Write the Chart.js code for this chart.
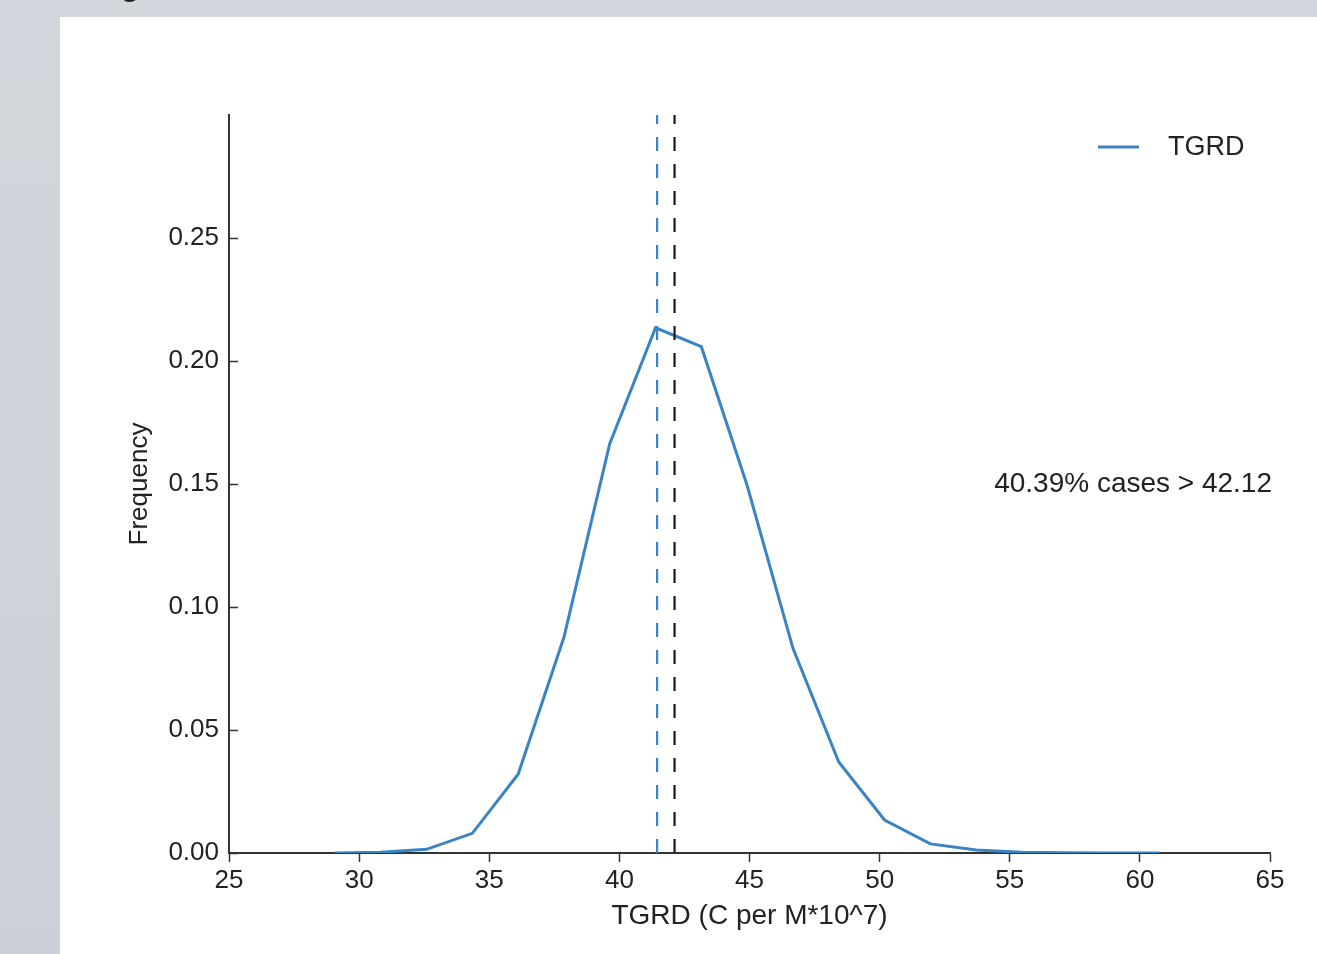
<!DOCTYPE html>
<html>
<head>
<meta charset="utf-8">
<script src="https://cdn.jsdelivr.net/npm/chart.js@4.4.1/dist/chart.umd.min.js"></script>
<style>
  html, body { margin: 0; padding: 0; background: #cfd3d9; }
  #wrap { width: 1317px; height: 954px; }
</style>
</head>
<body>
<div id="wrap"><canvas id="c" width="1317" height="954"></canvas></div>
<script>
// ---- data ----
const binCenters = [29.07, 30.83, 32.59, 34.35, 36.11, 37.87, 39.63, 41.39, 43.15, 44.91,
                    46.67, 48.43, 50.19, 51.95, 53.71, 55.47, 57.23, 58.99, 60.75];
const frequency  = [0.0, 0.0003, 0.0015, 0.008, 0.032, 0.0877, 0.1664, 0.2135, 0.2058, 0.1494,
                    0.0832, 0.037, 0.0134, 0.0037, 0.0012, 0.0003, 0.0001, 0.0, 0.0];
const meanValue = 41.45;
const thresholdValue = 42.12;
const seriesLabel = 'TGRD';
const annotationText = '40.39% cases > 42.12';
const annotationPos = [54.4, 0.15];
const xTickValues = [25, 30, 35, 40, 45, 50, 55, 60, 65];
const yTickValues = [0.00, 0.05, 0.10, 0.15, 0.20, 0.25];
const xTitle = 'TGRD (C per M*10^7)';
const yTitle = 'Frequency';

const FONT = '"Liberation Sans", Arial, Helvetica, sans-serif';
const TXT = '#222222';
const BLUE = '#3a84c4';

const curve = binCenters.map((x, i) => ({x: x, y: frequency[i]}));

const bgPlugin = {
  id: 'bg',
  beforeDraw(chart) {
    const ctx = chart.ctx;
    ctx.save();
    const g = ctx.createLinearGradient(0, 0, 0, chart.height);
    g.addColorStop(0, '#d3d6db');
    g.addColorStop(1, '#cbd0d8');
    ctx.fillStyle = g;
    ctx.fillRect(0, 0, chart.width, chart.height);
    ctx.fillStyle = '#ffffff';
    ctx.fillRect(60, 17, chart.width - 60, chart.height - 17);
    ctx.fillStyle = '#222';
    ctx.font = 'bold 30px ' + FONT;
    ctx.textBaseline = 'alphabetic';
    ctx.fillText('g', 121, -4);
    ctx.restore();
  }
};

const extrasPlugin = {
  id: 'extras',
  afterDraw(chart) {
    const ctx = chart.ctx;
    const xs = chart.scales.x, ys = chart.scales.y;
    const area = chart.chartArea;
    ctx.save();
    // inward y ticks
    ctx.strokeStyle = '#333333';
    ctx.lineWidth = 1.5;
    yTickValues.forEach(v => {
      const py = Math.round(ys.getPixelForValue(v)) + 0.5;
      ctx.beginPath();
      ctx.moveTo(area.left, py);
      ctx.lineTo(area.left + 9, py);
      ctx.stroke();
    });
    // legend
    const ds = chart.data.datasets[0];
    ctx.strokeStyle = ds.borderColor;
    ctx.lineWidth = 3;
    ctx.beginPath();
    ctx.moveTo(1098, 147);
    ctx.lineTo(1139, 147);
    ctx.stroke();
    ctx.fillStyle = TXT;
    ctx.font = '27px ' + FONT;
    ctx.textBaseline = 'middle';
    ctx.textAlign = 'left';
    ctx.fillText(ds.label, 1168, 148);
    // annotation
    ctx.font = '28px ' + FONT;
    ctx.fillText(annotationText, xs.getPixelForValue(annotationPos[0]), ys.getPixelForValue(annotationPos[1]));
    ctx.restore();
  }
};

new Chart(document.getElementById('c'), {
  type: 'scatter',
  data: {
    datasets: [
      {
        label: seriesLabel,
        data: curve,
        showLine: true,
        borderColor: BLUE,
        borderWidth: 3,
        pointRadius: 0,
        tension: 0,
        order: 3
      },
      {
        label: 'mean',
        data: [{x: meanValue, y: 0}, {x: meanValue, y: 0.3}],
        showLine: true,
        borderColor: BLUE,
        borderWidth: 2.2,
        borderDash: [14, 13],
        pointRadius: 0,
        order: 2
      },
      {
        label: 'threshold',
        data: [{x: thresholdValue, y: 0}, {x: thresholdValue, y: 0.3}],
        showLine: true,
        borderColor: '#1a1a1a',
        borderWidth: 2.2,
        borderDash: [14, 13],
        pointRadius: 0,
        order: 1
      }
    ]
  },
  options: {
    responsive: false,
    animation: false,
    devicePixelRatio: 1,
    layout: { padding: { left: 100, top: 115, right: 47, bottom: 10 } },
    plugins: { legend: { display: false }, tooltip: { enabled: false } },
    scales: {
      x: {
        type: 'linear',
        min: 25, max: 65,
        afterBuildTicks(scale) { scale.ticks = xTickValues.map(v => ({value: v})); },
        afterFit(scale) { scale.height = 954 - 10 - 853; },
        ticks: {
          color: TXT,
          font: { family: FONT, size: 26 },
          padding: 3,
          maxRotation: 0,
          autoSkip: false,
          callback: v => String(v)
        },
        grid: {
          drawOnChartArea: false,
          drawTicks: true,
          tickLength: 9,
          tickWidth: 1.5,
          tickColor: '#333333'
        },
        border: { display: true, color: '#333333', width: 2 },
        title: {
          display: true,
          text: xTitle,
          color: TXT,
          font: { family: FONT, size: 28 },
          padding: { top: 0, bottom: 11 }
        }
      },
      y: {
        type: 'linear',
        min: 0, max: 0.3,
        afterBuildTicks(scale) { scale.ticks = yTickValues.map(v => ({value: v})); },
        afterFit(scale) { scale.width = 129; },
        ticks: {
          color: TXT,
          font: { family: FONT, size: 26 },
          padding: 10,
          autoSkip: false,
          callback: v => Number(v).toFixed(2)
        },
        grid: {
          drawOnChartArea: false,
          drawTicks: false,
          tickLength: 0
        },
        border: { display: true, color: '#333333', width: 2 },
        title: {
          display: true,
          text: yTitle,
          color: TXT,
          font: { family: FONT, size: 26 },
          padding: { top: 24, bottom: 0 }
        }
      }
    }
  },
  plugins: [bgPlugin, extrasPlugin]
});
</script>
</body>
</html>
